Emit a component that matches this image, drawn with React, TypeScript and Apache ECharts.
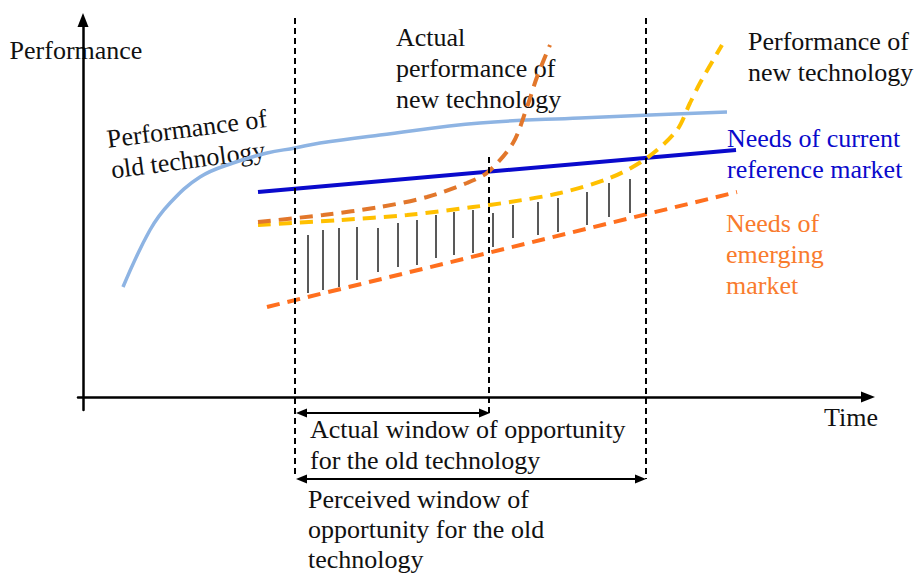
import React, { useEffect, useRef } from 'react';
import * as echarts from 'echarts';

const FONT = '"Liberation Serif", "Times New Roman", Times, serif';

// Coordinates in chart units: x = time, y = performance (origin at the axes' crossing)
const oldTechPerformance = [
  [40, 110], [67, 167], [87, 194], [117, 220], [150, 234], [184, 244], [212, 249],
  [237, 254], [297, 262], [397, 274], [497, 279], [567, 282], [644, 285],
];
const currentMarketNeeds = [[175, 205], [653, 247]];
const actualNewTechPerformance = [
  [175, 175], [240, 182], [297, 190], [344, 200], [384, 214], [405, 225],
  [430, 254], [444, 290], [454, 320], [467, 352],
];
const newTechPerformance = [
  [175, 172], [257, 177], [324, 182], [390, 190], [427, 195], [477, 204],
  [527, 219], [564, 239], [594, 267], [607, 294], [617, 314], [639, 352],
];
const emergingMarketNeeds = [[184, 90], [654, 205]];

// hatching: [x, top, bottom]
const hatchLines = [
  [225, 162, 104], [240, 167, 107], [256, 169, 110], [274, 170, 117], [295, 169, 125],
  [315, 174, 130], [334, 177, 132], [353, 182, 139], [371, 185, 142], [390, 187, 144],
  [410, 184, 150], [430, 192, 159], [455, 195, 162], [475, 199, 165], [504, 205, 172],
  [526, 214, 180], [547, 218, 184],
];
// vertical dashed markers: [x, top, bottom]
const windowMarkers = [[212, 379, -81], [406, 240, -17], [563, 379, -82]];
// window arrows: [xStart, xEnd, y]
const windowArrows = [[213, 407, -16], [213, 563, -82]];

const labels = {
  yName: 'Performance',
  xName: 'Time',
  oldTech: 'Performance of\nold technology',
  actualNew: 'Actual\nperformance of\nnew technology',
  newTech: 'Performance of\nnew technology',
  current: 'Needs of current\nreference market',
  emerging: 'Needs of\nemerging\nmarket',
  actualWindow: 'Actual window of opportunity\nfor the old technology',
  perceivedWindow: 'Perceived window of\nopportunity for the old\ntechnology',
};

const txt = (text: string, x: number, y: number, fill = '#111', lineHeight = 31, rotation = 0) => ({
  type: 'text',
  x,
  y,
  rotation,
  silent: true,
  style: {
    text,
    fill,
    font: `26px ${FONT}`,
    lineHeight,
    align: 'left',
    verticalAlign: 'top',
  },
});

export default function App() {
  const ref = useRef<HTMLDivElement>(null);
  useEffect(() => {
    if (!ref.current) return;
    const chart = echarts.init(ref.current, undefined, { renderer: 'svg' });
    const dashed = [13, 8];
    chart.setOption({
      animation: false,
      backgroundColor: '#ffffff',
      grid: { left: 78, right: 49, top: 20, bottom: 164 },
      xAxis: {
        type: 'value',
        min: -5,
        max: 785,
        name: labels.xName,
        nameLocation: 'end',
        nameGap: 10,
        nameTextStyle: { fontFamily: FONT, fontSize: 26, color: '#111', align: 'right', verticalAlign: 'top', padding: [7, 0, 0, 0] },
        axisLine: { show: true, onZero: true, symbol: ['none', 'triangle'], symbolSize: [11, 14], lineStyle: { color: '#000', width: 2.5 } },
        axisTick: { show: false },
        axisLabel: { show: false },
        splitLine: { show: false },
      },
      yAxis: {
        type: 'value',
        min: -13,
        max: 377,
        name: labels.yName,
        nameLocation: 'end',
        nameGap: -30,
        nameTextStyle: { fontFamily: FONT, fontSize: 26, color: '#111', align: 'center', verticalAlign: 'middle', padding: [0, 14, 0, 0] },
        axisLine: { show: true, onZero: true, symbol: ['none', 'triangle'], symbolSize: [11, 14], lineStyle: { color: '#000', width: 2.5 } },
        axisTick: { show: false },
        axisLabel: { show: false },
        splitLine: { show: false },
      },
      series: [
        {
          type: 'line', data: oldTechPerformance, smooth: 0.4, symbol: 'none',
          lineStyle: { color: '#8EB4E3', width: 3.5 }, z: 2,
        },
        {
          type: 'line', data: currentMarketNeeds, symbol: 'none',
          lineStyle: { color: '#0A0ACC', width: 4 }, z: 3,
        },
        {
          type: 'line', data: emergingMarketNeeds, symbol: 'none',
          lineStyle: { color: '#FF6F1E', width: 4, type: dashed }, z: 4,
        },
        {
          type: 'line', data: newTechPerformance, smooth: 0.3, symbol: 'none',
          lineStyle: { color: '#FFC000', width: 4, type: dashed }, z: 5,
        },
        {
          type: 'line', data: actualNewTechPerformance, smooth: 0.3, symbol: 'none',
          lineStyle: { color: '#E2772B', width: 4, type: dashed }, z: 6,
        },
        {
          type: 'custom', data: hatchLines, z: 7, clip: false,
          renderItem: (_p: any, api: any) => {
            const a = api.coord([api.value(0), api.value(1)]);
            const b = api.coord([api.value(0), api.value(2)]);
            return {
              type: 'line',
              shape: { x1: a[0], y1: a[1], x2: b[0], y2: b[1] },
              style: { stroke: '#222', lineWidth: 1.5 },
            };
          },
        },
        {
          type: 'custom', data: windowMarkers, z: 8, clip: false,
          renderItem: (_p: any, api: any) => {
            const a = api.coord([api.value(0), api.value(1)]);
            const b = api.coord([api.value(0), api.value(2)]);
            return {
              type: 'line',
              shape: { x1: a[0], y1: a[1], x2: b[0], y2: b[1] },
              style: { stroke: '#000', lineWidth: 2, lineDash: [6, 4] },
            };
          },
        },
        {
          type: 'custom', data: windowArrows, z: 9, clip: false,
          renderItem: (_p: any, api: any) => {
            const a = api.coord([api.value(0), api.value(2)]);
            const b = api.coord([api.value(1), api.value(2)]);
            const L = 11;
            const W = 4.5;
            return {
              type: 'group',
              children: [
                { type: 'line', shape: { x1: a[0] + L - 2, y1: a[1], x2: b[0] - L + 2, y2: b[1] }, style: { stroke: '#000', lineWidth: 2 } },
                { type: 'polygon', shape: { points: [[a[0], a[1]], [a[0] + L, a[1] - W], [a[0] + L, a[1] + W]] }, style: { fill: '#000' } },
                { type: 'polygon', shape: { points: [[b[0], b[1]], [b[0] - L, b[1] - W], [b[0] - L, b[1] + W]] }, style: { fill: '#000' } },
              ],
            };
          },
        },
      ],
      graphic: [
        txt(labels.oldTech, 105, 124, '#111', 31, 0.13),
        txt(labels.actualNew, 396, 22),
        txt(labels.newTech, 748, 26),
        txt(labels.current, 727, 123, '#0A0ACC'),
        txt(labels.emerging, 726, 208, '#F97B2D'),
        txt(labels.actualWindow, 310, 414),
        txt(labels.perceivedWindow, 308, 484, '#111', 30),
      ],
    });
    return () => chart.dispose();
  }, []);
  return (
    <div
      ref={ref}
      style={{ position: 'fixed', left: 0, top: 0, width: 917, height: 574, background: '#fff' }}
    />
  );
}
